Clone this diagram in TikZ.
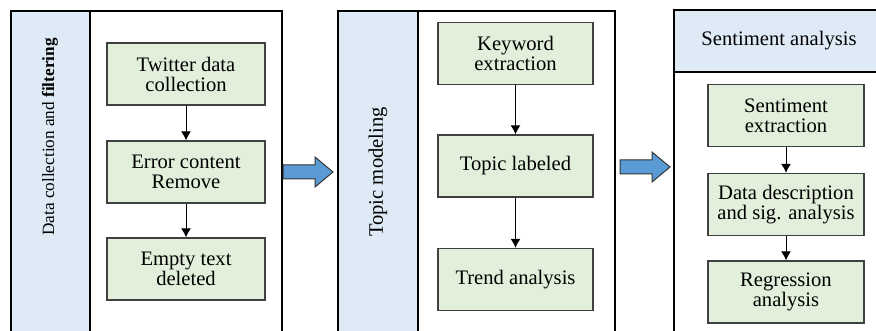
\documentclass[tikz,border=0pt]{standalone}
\usepackage{fontspec}
\setmainfont{Liberation Serif}
\usetikzlibrary{positioning, arrows.meta}
\definecolor{stripblue}{HTML}{DEEBF7}
\definecolor{stepgreen}{HTML}{E2EFDA}
\definecolor{arrowblue}{HTML}{5B9BD5}
\tikzset{
    stepbox/.style={draw=black!75, line width=0.7pt, fill=stepgreen, align=center,
        minimum width=78pt, minimum height=31pt, inner sep=0pt,
        font=\fontsize{10.3}{10}\selectfont},
    panel/.style={draw=black, line width=1pt},
    flow/.style={-{Latex[length=4.5pt,width=5pt]}, line width=0.5pt},
    bigarrow/.style={draw=black!80, line width=0.5pt, fill=arrowblue},
    title/.style={font=\fontsize{10.3}{10}\selectfont}
}

\begin{document}
\begin{tikzpicture}[x=0.5pt, y=-0.5pt]
    \useasboundingbox (0,0) rectangle (876,331);
    \clip (0,0) rectangle (876,331);

    % panel frames
    \fill[stripblue] (11,11) rectangle (90,345);
    \draw[panel] (11,11) rectangle (282,345);
    \draw[panel] (90,11) -- (90,345);

    \fill[stripblue] (338,11) rectangle (418,345);
    \draw[panel] (338,11) rectangle (615,345);
    \draw[panel] (418,11) -- (418,345);

    \fill[stripblue] (674,10) rectangle (884,72);
    \draw[panel] (674,10) rectangle (884,345);
    \draw[panel] (674,72) -- (884,72);

    % panel titles
    \node[rotate=90, font=\fontsize{8.6}{10}\selectfont] (datalabel) at (50,137)
        {Data collection and \textbf{filtering}};
    \node[rotate=90, title] (topiclabel) at (378,172) {Topic modeling};
    \node[title] (sentlabel) at (779,41) {Sentiment analysis};

    % steps
    \node[stepbox, minimum width=79pt] (twitter) at (186,74) {Twitter data\\collection};
    \node[stepbox, minimum width=79pt] (error) at (186,172) {Error content\\Remove};
    \node[stepbox, minimum width=79pt] (empty) at (186,269) {Empty text\\deleted};

    \node[stepbox, minimum width=77.5pt] (keyword) at (515.5,53.5) {Keyword\\extraction};
    \node[stepbox, minimum width=77.5pt] (labeled) at (515.5,166) {Topic labeled};
    \node[stepbox, minimum width=77.5pt] (trend) at (515.5,279.5) {Trend analysis};

    \node[stepbox] (sentext) at (786,115.5) {Sentiment\\extraction};
    \node[stepbox] (descr) at (786,204.5) {Data description\\and sig. analysis};
    \node[stepbox] (regress) at (786,292) {Regression\\analysis};

    \draw[flow] (twitter) -- (error);
    \draw[flow] (error) -- (empty);
    \draw[flow] (keyword) -- (labeled);
    \draw[flow] (labeled) -- (trend);
    \draw[flow] (sentext) -- (descr);
    \draw[flow] (descr) -- (regress);

    % block arrows between panels
    \foreach \x/\y in {283/172, 620/167}
    {
        \draw[bigarrow] (\x,\y-7) -- (\x+32,\y-7) -- (\x+32,\y-15) -- (\x+50,\y)
            -- (\x+32,\y+15) -- (\x+32,\y+7) -- (\x,\y+7) -- cycle;
    }
\end{tikzpicture}
\end{document}
